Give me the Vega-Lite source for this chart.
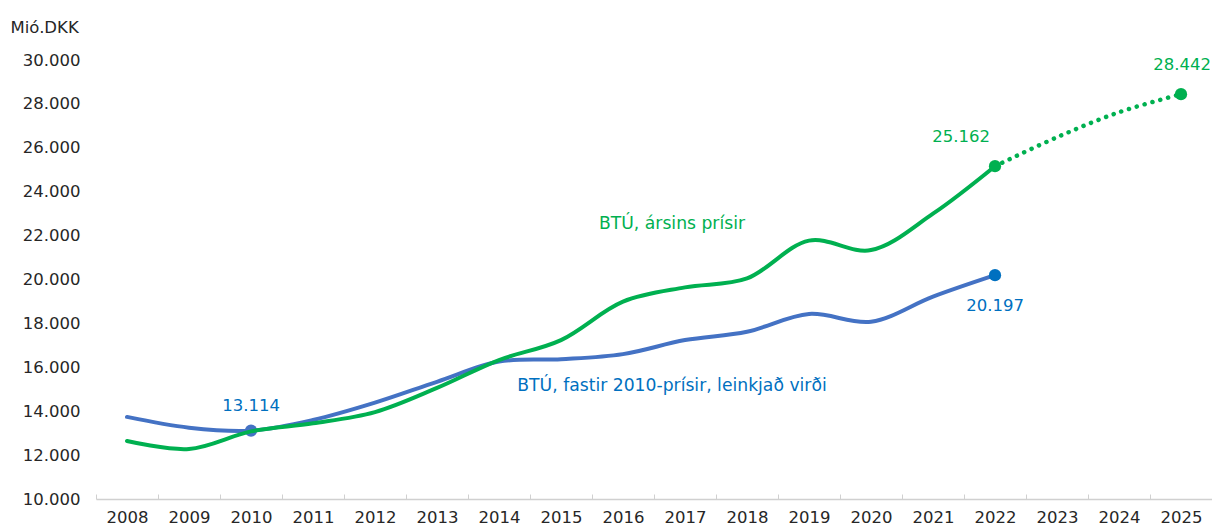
{
  "$schema": "https://vega.github.io/schema/vega-lite/v6.json",
  "width": 1116,
  "height": 439,
  "autosize": {"type": "none"},
  "padding": {"left": 96, "top": 60, "right": 0, "bottom": 32},
  "background": "white",
  "config": {"view": {"stroke": null}, "font": "DejaVu Sans"},
  "datasets": {
    "series": [
      {"year": "2008", "value": 12640, "series": "current"},
      {"year": "2009", "value": 12280, "series": "current"},
      {"year": "2010", "value": 13080, "series": "current"},
      {"year": "2011", "value": 13450, "series": "current"},
      {"year": "2012", "value": 13960, "series": "current"},
      {"year": "2013", "value": 15060, "series": "current"},
      {"year": "2014", "value": 16330, "series": "current"},
      {"year": "2015", "value": 17240, "series": "current"},
      {"year": "2016", "value": 18990, "series": "current"},
      {"year": "2017", "value": 19640, "series": "current"},
      {"year": "2018", "value": 20050, "series": "current"},
      {"year": "2019", "value": 21770, "series": "current"},
      {"year": "2020", "value": 21340, "series": "current"},
      {"year": "2021", "value": 23000, "series": "current"},
      {"year": "2022", "value": 25162, "series": "current"},
      {"year": "2022", "value": 25162, "series": "forecast"},
      {"year": "2023", "value": 26480, "series": "forecast"},
      {"year": "2024", "value": 27620, "series": "forecast"},
      {"year": "2025", "value": 28442, "series": "forecast"},
      {"year": "2008", "value": 13740, "series": "fixed"},
      {"year": "2009", "value": 13250, "series": "fixed"},
      {"year": "2010", "value": 13114, "series": "fixed"},
      {"year": "2011", "value": 13600, "series": "fixed"},
      {"year": "2012", "value": 14390, "series": "fixed"},
      {"year": "2013", "value": 15340, "series": "fixed"},
      {"year": "2014", "value": 16260, "series": "fixed"},
      {"year": "2015", "value": 16370, "series": "fixed"},
      {"year": "2016", "value": 16600, "series": "fixed"},
      {"year": "2017", "value": 17240, "series": "fixed"},
      {"year": "2018", "value": 17620, "series": "fixed"},
      {"year": "2019", "value": 18430, "series": "fixed"},
      {"year": "2020", "value": 18080, "series": "fixed"},
      {"year": "2021", "value": 19220, "series": "fixed"},
      {"year": "2022", "value": 20197, "series": "fixed"}
    ],
    "markers": [
      {"year": "2010", "value": 13114, "series": "fixed", "label": "13.114"},
      {"year": "2022", "value": 20197, "series": "fixed", "label": "20.197"},
      {"year": "2022", "value": 25162, "series": "current", "label": "25.162"},
      {"year": "2025", "value": 28442, "series": "current", "label": "28.442"}
    ],
    "annotations": [
      {"year": "2017", "value": 22550, "series": "current", "label": "BTÚ, ársins prísir"},
      {"year": "2017", "value": 15170, "series": "fixed", "label": "BTÚ, fastir 2010-prísir, leinkjað virði"}
    ]
  },
  "encoding": {
    "x": {
      "field": "year", "type": "ordinal",
      "scale": {"domain": ["2008","2009","2010","2011","2012","2013","2014","2015","2016","2017","2018","2019","2020","2021","2022","2023","2024","2025"], "paddingInner": 0, "paddingOuter": 0},
      "axis": {
        "title": null, "labelAngle": 0, "bandPosition": 0, "tickBand": "extent",
        "domainColor": "#D0D0D0", "tickColor": "#D0D0D0", "tickSize": -5, "domainWidth": 1.3,
        "labelPadding": 15, "labelFontSize": 16.5, "labelColor": "#262626", "labelFont": "DejaVu Sans", "labelBaseline": "top"
      }
    },
    "y": {
      "field": "value", "type": "quantitative",
      "scale": {"domain": [10000, 30000], "nice": false, "zero": false},
      "axis": {
        "values": [10000, 12000, 14000, 16000, 18000, 20000, 22000, 24000, 26000, 28000, 30000],
        "labelExpr": "replace(format(datum.value, ','), ',', '.')",
        "domain": false, "ticks": false, "grid": false,
        "labelPadding": 16, "labelFontSize": 16.5, "labelColor": "#262626", "labelFont": "DejaVu Sans",
        "title": "Mió.DKK", "titleAngle": 0, "titleAlign": "left", "titleBaseline": "middle",
        "titleX": -86, "titleY": -33, "titleFontSize": 16.5, "titleFontWeight": "normal", "titleColor": "#262626", "titleFont": "DejaVu Sans"
      }
    }
  },
  "layer": [
    {
      "data": {"name": "series"},
      "transform": [{"filter": "datum.series === 'fixed'"}],
      "mark": {"type": "line", "interpolate": "catmull-rom", "strokeWidth": 4, "color": "#4472C4", "strokeCap": "round"}
    },
    {
      "data": {"name": "markers"},
      "transform": [{"filter": "datum.series === 'fixed' && datum.year === '2010'"}],
      "mark": {"type": "point", "filled": true, "size": 150, "color": "#4472C4", "opacity": 1}
    },
    {
      "data": {"name": "series"},
      "transform": [{"filter": "datum.series === 'current'"}],
      "mark": {"type": "line", "interpolate": "catmull-rom", "strokeWidth": 4, "color": "#00B050", "strokeCap": "round"}
    },
    {
      "data": {"name": "series"},
      "transform": [{"filter": "datum.series === 'forecast'"}],
      "mark": {"type": "line", "interpolate": "catmull-rom", "strokeWidth": 4.5, "color": "#00B050", "strokeCap": "round", "strokeDash": [0.1, 8]}
    },
    {
      "data": {"name": "markers"},
      "transform": [{"filter": "datum.series === 'current'"}],
      "mark": {"type": "point", "filled": true, "size": 150, "color": "#00B050", "opacity": 1}
    },
    {
      "data": {"name": "markers"},
      "transform": [{"filter": "datum.series === 'fixed' && datum.year === '2022'"}],
      "mark": {"type": "point", "filled": true, "size": 150, "color": "#0070C0", "opacity": 1}
    },
    {
      "data": {"name": "markers"},
      "transform": [{"filter": "datum.year === '2010'"}],
      "mark": {"type": "text", "dy": -25, "fontSize": 16.5, "color": "#0070C0", "font": "DejaVu Sans"},
      "encoding": {"text": {"field": "label"}}
    },
    {
      "data": {"name": "markers"},
      "transform": [{"filter": "datum.series === 'fixed' && datum.year === '2022'"}],
      "mark": {"type": "text", "dy": 31, "fontSize": 16.5, "color": "#0070C0", "font": "DejaVu Sans"},
      "encoding": {"text": {"field": "label"}}
    },
    {
      "data": {"name": "markers"},
      "transform": [{"filter": "datum.series === 'current' && datum.year === '2022'"}],
      "mark": {"type": "text", "dy": -29, "dx": -34, "fontSize": 16.5, "color": "#00B050", "font": "DejaVu Sans"},
      "encoding": {"text": {"field": "label"}}
    },
    {
      "data": {"name": "markers"},
      "transform": [{"filter": "datum.series === 'current' && datum.year === '2025'"}],
      "mark": {"type": "text", "dy": -29, "dx": 1, "fontSize": 16.5, "color": "#00B050", "font": "DejaVu Sans"},
      "encoding": {"text": {"field": "label"}}
    },
    {
      "data": {"name": "annotations"},
      "transform": [{"filter": "datum.series === 'current'"}],
      "mark": {"type": "text", "dx": -13, "fontSize": 17.2, "color": "#00B050", "font": "DejaVu Sans"},
      "encoding": {"text": {"field": "label"}}
    },
    {
      "data": {"name": "annotations"},
      "transform": [{"filter": "datum.series === 'fixed'"}],
      "mark": {"type": "text", "dx": -13, "fontSize": 17.2, "color": "#0070C0", "font": "DejaVu Sans"},
      "encoding": {"text": {"field": "label"}}
    }
  ]
}
